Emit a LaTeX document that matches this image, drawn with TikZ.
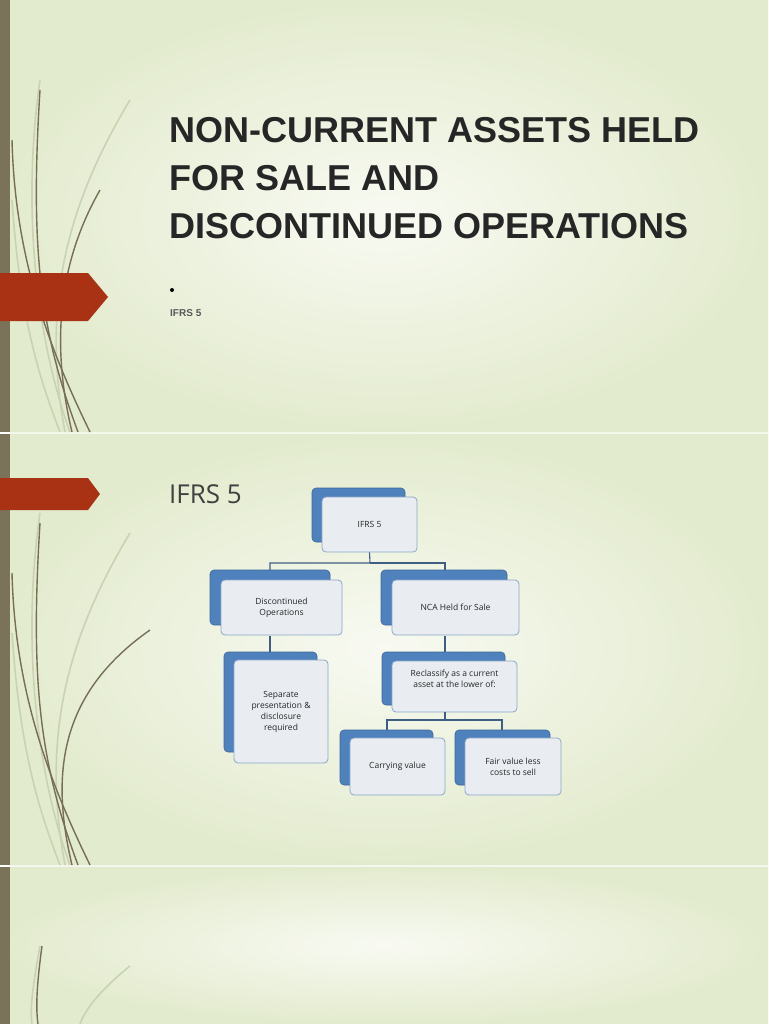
\documentclass[tikz,border=0pt]{standalone}
\usepackage{fontspec}
\setmainfont{Liberation Sans}
\newfontfamily\tfont{Open Sans}
\usetikzlibrary{shadings}
\definecolor{bgc}{HTML}{E3EBCE}
\definecolor{bgi}{HTML}{F8FAF2}
\definecolor{strip}{HTML}{7A7259}
\definecolor{redc}{HTML}{A93214}
\definecolor{curv}{HTML}{766E57}
\definecolor{lcurv}{HTML}{C9D3B2}
\definecolor{backb}{HTML}{4F81BD}
\definecolor{frontb}{HTML}{E9ECF1}
\definecolor{edgeb}{HTML}{8EA6C9}
\definecolor{connc}{HTML}{3E5E82}
\tikzset{
  back/.style={fill=backb, draw=backb!80!black, rounded corners=4pt, line width=0.6pt},
  front/.style={fill=frontb, draw=edgeb, rounded corners=4pt, line width=0.8pt, align=center, font=\tfont\fontsize{8.5}{11}\selectfont, text=black!85, inner sep=0pt},
  lbl/.style={align=center, font=\tfont\fontsize{8.5}{11}\selectfont, text=black!85, inner sep=0pt},
  conn/.style={draw=connc, line width=1.1pt},
  cv/.style={draw=curv, line width=1.4pt},
  lcv/.style={draw=lcurv, line width=1.6pt}
}
\begin{document}
\begin{tikzpicture}[x=1pt,y=-1pt]
\useasboundingbox (0,0) rectangle (768,1024);
\foreach \a/\b in {0/432,433/865,866/1024}{
  \shade[inner color=bgi, outer color=bgc] (0,\a) rectangle (768,\b);
}
\fill[white!60!bgc] (0,432) rectangle (768,433.5);
\fill[white!60!bgc] (0,865) rectangle (768,866.5);
\fill[strip] (0,0) rectangle (10,1024);
\fill[white] (0,432) rectangle (10,433.5);
\fill[white] (0,865) rectangle (10,866.5);
% curves slide 1
\begin{scope}
\clip (10,0) rectangle (768,432);
\draw[lcv] (40,80) .. controls (20,220) and (40,350) .. (70,432);
\draw[lcv] (130,100) .. controls (70,200) and (40,300) .. (65,432);
\draw[cv] (40,90) .. controls (30,250) and (40,330) .. (78,432);
\draw[cv] (12,140) .. controls (15,260) and (50,350) .. (90,432);
\draw[cv] (100,190) .. controls (60,260) and (50,340) .. (72,432);
\draw[lcv] (12,200) .. controls (20,320) and (40,380) .. (60,432);
\end{scope}
% curves slide 2
\begin{scope}
\clip (10,433) rectangle (768,865);
\draw[lcv] (40,513) .. controls (20,653) and (40,783) .. (70,865);
\draw[lcv] (130,533) .. controls (70,633) and (40,733) .. (65,865);
\draw[cv] (40,523) .. controls (30,683) and (40,763) .. (78,865);
\draw[cv] (12,573) .. controls (15,693) and (50,783) .. (90,865);
\draw[cv] (150,630) .. controls (60,693) and (50,773) .. (72,865);
\draw[lcv] (12,633) .. controls (20,753) and (40,813) .. (60,865);
\end{scope}
% curves slide 3
\begin{scope}
\clip (10,866) rectangle (768,1024);
\draw[lcv] (40,946) .. controls (32,990) and (30,1010) .. (32,1024);
\draw[cv] (42,946) .. controls (36,990) and (36,1010) .. (38,1024);
\draw[lcv] (130,966) .. controls (100,990) and (85,1010) .. (80,1024);
\end{scope}
% red arrows
\fill[redc] (0,273) -- (88,273) -- (108,297) -- (88,321) -- (0,321) -- cycle;
\fill[redc] (0,478) -- (88,478) -- (100,494) -- (88,510) -- (0,510) -- cycle;
% title
\node[anchor=north west, align=left, inner sep=0pt, text=black!85, font=\bfseries\fontsize{36}{48}\selectfont] (title) at (169,117)
 {NON-CURRENT ASSETS HELD\\FOR SALE AND\\DISCONTINUED OPERATIONS};
\node[circle, fill=black, inner sep=0pt, minimum size=4pt] (bul) at (172,290) {};
\node[anchor=west, inner sep=0pt, text=black!65, font=\bfseries\fontsize{10}{12}\selectfont] (sub) at (170,313) {IFRS 5};
\node[anchor=west, inner sep=0pt, text=black!75, font=\tfont\fontsize{26}{30}\selectfont] (h2) at (169,494) {IFRS 5};
% diagram
\fill[back] (312,488) rectangle (405,542);
\node[front, minimum width=95pt, minimum height=55pt] (n1) at (369.5,524.5) {IFRS 5};
\fill[back] (210,570) rectangle (330,625);
\node[front, minimum width=121pt, minimum height=55pt] (n2) at (281.5,607.5) {Discontinued\\Operations};
\fill[back] (381,570) rectangle (507,625);
\node[front, minimum width=127pt, minimum height=55pt] (n3) at (455.5,607.5) {NCA Held for Sale};
\fill[back] (224,652) rectangle (317,752);
\node[front, minimum width=94pt, minimum height=103pt] (n4) at (281,711.5) {Separate\\presentation \&\\disclosure\\required};
\fill[back] (382,652) rectangle (505,705);
\node[front, minimum width=125pt, minimum height=51pt] (n5) at (454.5,686.5) {};
\node[lbl] (n5t) at (454.5,679) {Reclassify as a current\\asset at the lower of:};
\fill[back] (340,730) rectangle (433,785);
\node[front, minimum width=95pt, minimum height=57pt] (n6) at (397.5,766.5) {Carrying value};
\fill[back] (455,730) rectangle (550,785);
\node[front, minimum width=96pt, minimum height=57pt] (n7) at (513,766.5) {Fair value less\\costs to sell};
% connectors
\coordinate (j1) at (370,563);
\coordinate (j2) at (445,720);
\draw[conn] (n1.south) -- (j1) -| (270,570);
\draw[conn] (j1) -| (445,570);
\draw[conn] (270,636) -- (270,652);
\draw[conn] (445,636) -- (445,652);
\draw[conn] (n5.south -| j2) -- (j2) -| (387,730);
\draw[conn] (j2) -| (502,730);
\end{tikzpicture}
\end{document}
